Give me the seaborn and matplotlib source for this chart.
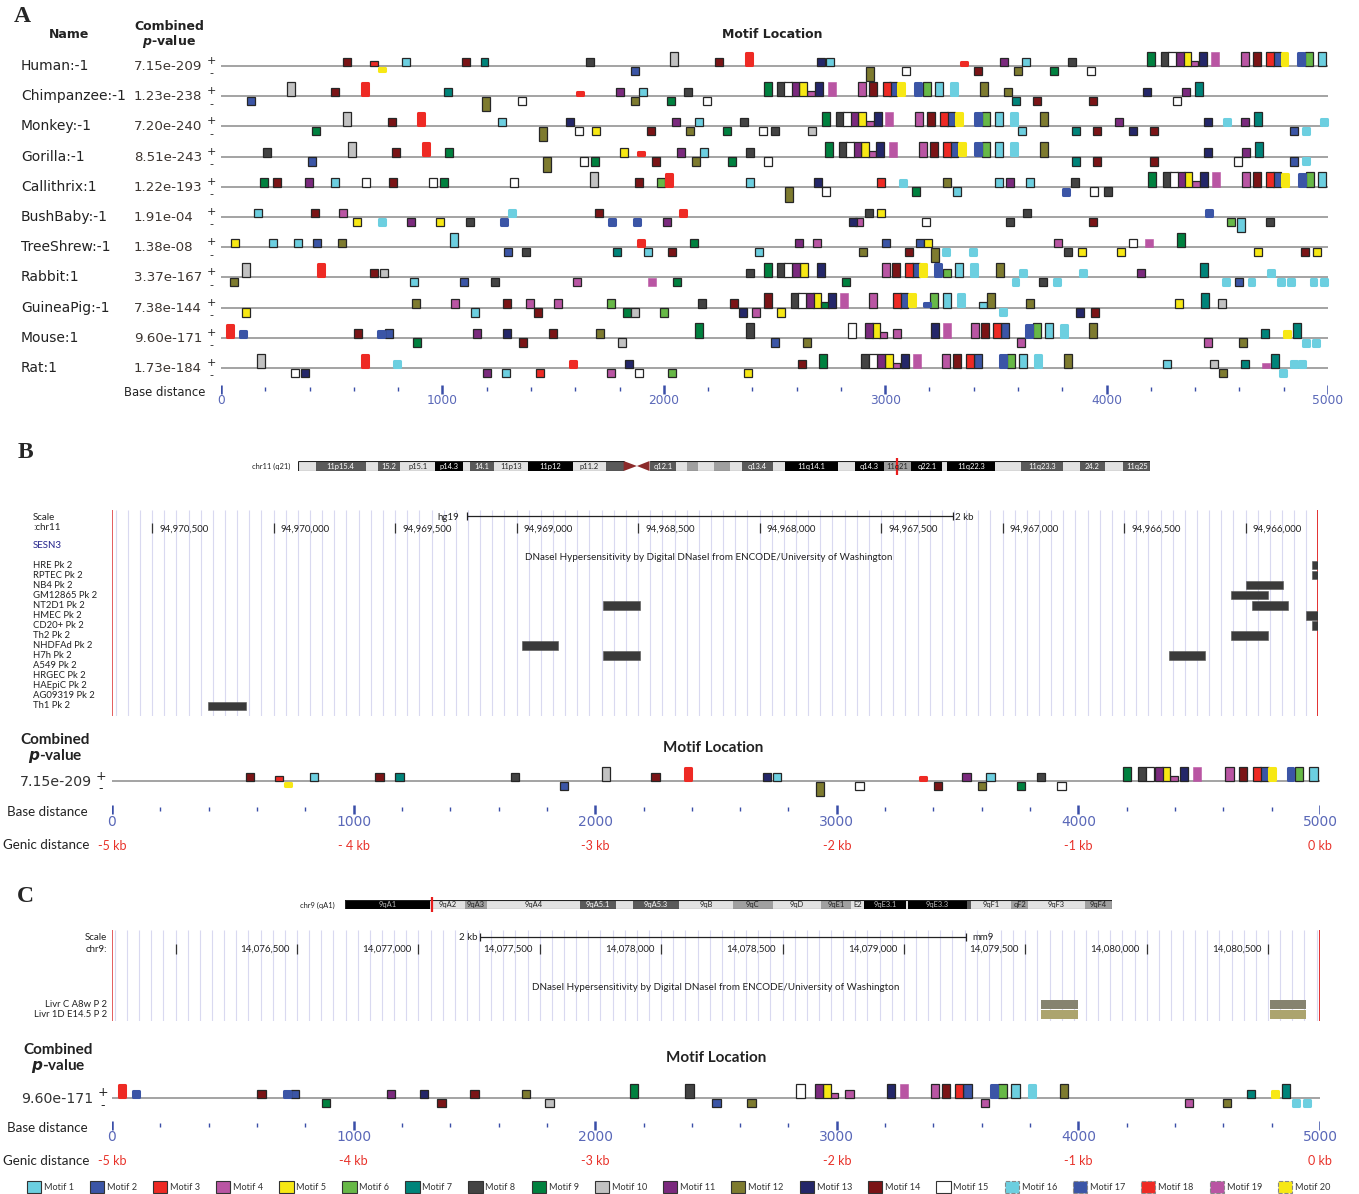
import numpy as np
import pandas as pd
import matplotlib
matplotlib.use('Agg')
import matplotlib.pyplot as plt
import seaborn as sns
from matplotlib.patches import Patch

# ---------------------------------------------------------
# data
# ---------------------------------------------------------
motif_names = [f'Motif {i}' for i in range(1, 21)]
motif_colors = ['#6ccfe0', '#3b55a6', '#ee2a24', '#b955a3', '#f7e814',
                '#67b847', '#00847a', '#434343', '#00813f', '#c2c2c2',
                '#7b2a7e', '#7e7b2f', '#242769', '#7b1416', '#ffffff',
                '#6ccfe0', '#3b55a6', '#ee2a24', '#b955a3', '#f7e814']
blob_motifs = [16, 17, 18, 20]
noedge_motifs = [19]

species = ['Human:-1', 'Chimpanzee:-1', 'Monkey:-1', 'Gorilla:-1', 'Callithrix:1',
           'BushBaby:-1', 'TreeShrew:-1', 'Rabbit:1', 'GuineaPig:-1', 'Mouse:1', 'Rat:1']
pvalues = ['7.15e-209', '1.23e-238', '7.20e-240', '8.51e-243', '1.22e-193',
           '1.91e-04', '1.38e-08', '3.37e-167', '7.38e-144', '9.60e-171', '1.73e-184']

# (position bp, motif, strand, size class 0 small / 1 normal / 2 tall)
human = [(570, 14, '+', 1), (691, 3, '+', 0), (727, 20, '-', 0), (836, 1, '+', 1), (1107, 14, '+', 1),
         (1190, 7, '+', 1), (1667, 8, '+', 1), (1870, 2, '-', 1), (2046, 10, '+', 2), (2250, 14, '+', 1),
         (2385, 18, '+', 2), (2710, 13, '+', 1), (2751, 1, '+', 1), (2932, 12, '-', 2), (3094, 15, '-', 1),
         (3356, 18, '+', 0), (3419, 14, '-', 1), (3537, 11, '+', 1), (3600, 12, '-', 1), (3636, 1, '+', 1),
         (3763, 9, '-', 1), (3844, 8, '+', 1), (3930, 15, '-', 1), (4201, 9, '+', 2), (4264, 8, '+', 2),
         (4296, 15, '+', 2), (4332, 11, '+', 2), (4363, 5, '+', 2), (4395, 4, '+', 0), (4436, 13, '+', 2),
         (4490, 19, '+', 2), (4625, 4, '+', 2), (4680, 14, '+', 2), (4738, 3, '+', 2), (4770, 2, '+', 2),
         (4802, 20, '+', 2), (4878, 17, '+', 2), (4914, 6, '+', 2), (4973, 1, '+', 2)]
chimp = [(136, 2, '-', 1), (316, 10, '+', 2), (515, 14, '+', 1), (650, 18, '+', 2), (1025, 7, '+', 1),
         (1197, 12, '-', 2), (1360, 15, '-', 1), (1622, 18, '+', 0), (1802, 11, '+', 1), (1870, 12, '-', 1),
         (1906, 1, '+', 1), (2033, 9, '-', 1), (2110, 8, '+', 1), (2195, 15, '-', 1), (2471, 9, '+', 2),
         (2530, 8, '+', 2), (2561, 15, '+', 2), (2593, 11, '+', 2), (2629, 5, '+', 2), (2665, 4, '+', 0),
         (2701, 13, '+', 2), (2760, 19, '+', 2), (2895, 4, '+', 2), (2945, 14, '+', 2), (3008, 3, '+', 2),
         (3035, 2, '+', 2), (3071, 20, '+', 2), (3148, 17, '+', 2), (3189, 6, '+', 2), (3243, 1, '+', 2),
         (3311, 16, '+', 2), (3447, 12, '+', 2), (3555, 12, '+', 1), (3591, 7, '-', 1), (3686, 14, '-', 1),
         (3939, 14, '-', 1), (4183, 13, '+', 1), (4318, 15, '-', 1), (4359, 11, '+', 1), (4418, 7, '+', 2)]
monkey = [(429, 9, '-', 1), (569, 10, '+', 2), (772, 14, '+', 1), (903, 18, '+', 2), (1269, 1, '+', 1),
          (1454, 12, '-', 2), (1576, 13, '+', 1), (1617, 15, '-', 1), (1694, 5, '-', 1), (1942, 14, '-', 1),
          (2055, 11, '+', 1), (2118, 12, '-', 1), (2159, 1, '+', 1), (2286, 9, '-', 1), (2362, 8, '+', 1),
          (2448, 15, '-', 1), (2502, 8, '-', 1), (2670, 10, '-', 1), (2733, 9, '+', 2), (2796, 8, '+', 2),
          (2828, 15, '+', 2), (2860, 11, '+', 2), (2895, 5, '+', 2), (2932, 4, '+', 0), (2968, 13, '+', 2),
          (3017, 19, '+', 2), (3153, 4, '+', 2), (3207, 14, '+', 2), (3266, 3, '+', 2), (3297, 2, '+', 2),
          (3334, 20, '+', 2), (3419, 17, '+', 2), (3456, 6, '+', 2), (3514, 1, '+', 2), (3582, 16, '+', 2),
          (3618, 1, '-', 1), (3717, 12, '+', 2), (3862, 7, '-', 1), (3957, 14, '-', 1), (4056, 11, '+', 1),
          (4120, 13, '-', 1), (4214, 14, '-', 1), (4458, 13, '+', 1), (4544, 16, '+', 1), (4625, 11, '+', 1),
          (4684, 7, '+', 2), (4847, 2, '-', 1), (4901, 16, '-', 1), (4982, 16, '+', 1)]
gorilla = [(208, 8, '+', 1), (411, 2, '-', 1), (592, 10, '+', 2), (790, 14, '+', 1), (926, 18, '+', 2),
           (1030, 9, '+', 1), (1473, 12, '-', 2), (1640, 15, '-', 1), (1689, 9, '-', 1), (1820, 5, '+', 1),
           (1897, 18, '+', 0), (1965, 14, '-', 1), (2078, 11, '+', 1), (2146, 12, '-', 1), (2182, 1, '+', 1),
           (2308, 9, '-', 1), (2390, 8, '+', 1), (2471, 15, '-', 1), (2747, 9, '+', 2), (2810, 8, '+', 2),
           (2841, 15, '+', 2), (2873, 11, '+', 2), (2909, 5, '+', 2), (2941, 4, '+', 0), (2977, 13, '+', 2),
           (3035, 19, '+', 2), (3171, 4, '+', 2), (3221, 14, '+', 2), (3279, 3, '+', 2), (3311, 2, '+', 2),
           (3347, 20, '+', 2), (3419, 17, '+', 2), (3456, 6, '+', 2), (3514, 1, '+', 2), (3582, 16, '+', 2),
           (3717, 12, '+', 2), (3862, 7, '-', 1), (3957, 14, '-', 1), (4214, 14, '-', 1), (4458, 13, '+', 1),
           (4594, 15, '-', 1), (4630, 11, '+', 1), (4689, 7, '+', 2), (4847, 2, '-', 1), (4901, 16, '-', 1)]
callithrix = [(194, 9, '+', 1), (253, 14, '+', 1), (398, 11, '+', 1), (515, 1, '+', 1), (655, 15, '+', 1),
              (777, 14, '+', 1), (958, 15, '+', 1), (1007, 9, '+', 1), (1324, 15, '+', 1), (1685, 10, '+', 2),
              (1888, 14, '+', 1), (1987, 6, '+', 1), (2024, 18, '+', 2), (2390, 1, '+', 1), (2566, 12, '-', 2),
              (2697, 13, '+', 1), (2733, 15, '-', 1), (2981, 3, '+', 1), (3081, 16, '+', 1), (3139, 9, '-', 1),
              (3279, 12, '+', 1), (3325, 1, '-', 1), (3514, 1, '+', 1), (3564, 11, '+', 1), (3654, 1, '+', 1),
              (3817, 17, '-', 1), (3858, 8, '+', 1), (3943, 15, '-', 1), (4007, 8, '-', 1), (4205, 9, '+', 2),
              (4273, 8, '+', 2), (4305, 15, '+', 2), (4336, 11, '+', 2), (4368, 5, '+', 2), (4404, 4, '+', 0),
              (4440, 13, '+', 2), (4494, 19, '+', 2), (4630, 4, '+', 2), (4680, 14, '+', 2), (4738, 3, '+', 2),
              (4770, 2, '+', 2), (4806, 20, '+', 2), (4883, 17, '+', 2), (4919, 6, '+', 2), (4973, 1, '+', 2)]
bushbaby = [(167, 1, '+', 1), (425, 14, '+', 1), (551, 4, '+', 1), (614, 5, '-', 1), (727, 16, '-', 1),
            (858, 11, '-', 1), (989, 5, '-', 1), (1125, 8, '-', 1), (1278, 17, '-', 1), (1314, 16, '+', 1),
            (1707, 14, '+', 1), (1766, 17, '-', 1), (1879, 17, '-', 1), (2015, 11, '-', 1), (2087, 18, '+', 1),
            (2855, 13, '-', 1), (2882, 4, '-', 1), (2927, 8, '+', 1), (2981, 5, '+', 1), (3184, 15, '-', 1),
            (3564, 8, '-', 1), (3641, 8, '+', 1), (3939, 14, '-', 1), (4463, 17, '+', 1), (4562, 6, '-', 1),
            (4607, 1, '-', 2), (4738, 8, '-', 1)]
treeshrew = [(63, 5, '+', 1), (235, 1, '+', 1), (348, 1, '+', 1), (434, 2, '+', 1), (547, 12, '+', 1),
             (1052, 1, '+', 2), (1296, 2, '-', 1), (1378, 8, '-', 1), (1789, 7, '-', 1), (1897, 18, '+', 1),
             (1929, 1, '-', 1), (2037, 14, '-', 1), (2137, 9, '+', 1), (2430, 1, '-', 1), (2611, 11, '+', 1),
             (2692, 4, '+', 1), (2900, 12, '-', 1), (3004, 2, '+', 1), (3108, 14, '-', 1), (3157, 2, '+', 1),
             (3193, 5, '+', 1), (3225, 12, '-', 2), (3275, 16, '-', 1), (3397, 16, '-', 1), (3781, 4, '+', 1),
             (3826, 8, '-', 1), (3889, 5, '-', 1), (4065, 5, '-', 1), (4120, 15, '+', 1), (4192, 19, '+', 1),
             (4336, 9, '+', 2), (4684, 5, '-', 1), (4897, 14, '-', 1), (4951, 5, '-', 1)]
rabbit = [(59, 12, '-', 1), (113, 10, '+', 2), (452, 18, '+', 2), (691, 14, '+', 1), (736, 10, '+', 1),
          (872, 1, '-', 1), (1098, 2, '-', 1), (1238, 8, '-', 1), (1608, 4, '-', 1), (1947, 19, '-', 1),
          (2060, 9, '-', 1), (2390, 8, '+', 1), (2471, 9, '+', 2), (2530, 8, '+', 2), (2561, 15, '+', 2),
          (2597, 11, '+', 2), (2633, 5, '+', 2), (2710, 13, '+', 2), (2823, 9, '-', 1), (3004, 4, '+', 2),
          (3049, 14, '+', 2), (3108, 3, '+', 2), (3139, 2, '+', 2), (3171, 20, '+', 2), (3239, 17, '+', 2),
          (3279, 6, '+', 1), (3334, 1, '+', 2), (3401, 16, '+', 2), (3519, 12, '+', 2), (3587, 16, '-', 1),
          (3623, 16, '+', 1), (3713, 8, '-', 1), (3776, 16, '-', 1), (3894, 16, '+', 1), (4156, 11, '+', 1),
          (4440, 7, '+', 2), (4540, 16, '-', 1), (4598, 2, '-', 1), (4653, 16, '-', 1), (4743, 16, '+', 1),
          (4788, 16, '-', 1), (4833, 16, '-', 1), (4933, 16, '-', 1), (4982, 16, '-', 1)]
guineapig = [(113, 5, '-', 1), (881, 12, '+', 1), (1057, 4, '+', 1), (1147, 1, '-', 1), (1292, 14, '+', 1),
             (1396, 4, '+', 1), (1432, 14, '-', 1), (1522, 4, '+', 1), (1762, 6, '+', 1), (1834, 9, '-', 1),
             (1870, 10, '-', 1), (2001, 6, '-', 1), (2173, 8, '+', 1), (2317, 14, '+', 1), (2358, 13, '-', 1),
             (2417, 4, '-', 1), (2471, 14, '+', 2), (2530, 5, '-', 1), (2593, 8, '+', 2), (2624, 15, '+', 2),
             (2661, 11, '+', 2), (2692, 5, '+', 2), (2728, 9, '+', 0), (2760, 13, '+', 2), (2814, 19, '+', 2),
             (2945, 4, '+', 2), (3053, 3, '+', 2), (3085, 2, '+', 2), (3121, 20, '+', 2), (3189, 17, '+', 0),
             (3221, 6, '+', 2), (3279, 1, '+', 2), (3343, 16, '+', 2), (3442, 1, '+', 0), (3478, 12, '+', 2),
             (3532, 16, '-', 1), (3654, 12, '+', 1), (3880, 13, '-', 1), (3948, 14, '-', 1), (4327, 5, '+', 1),
             (4445, 7, '+', 2), (4521, 10, '+', 1)]
mouse = [(41, 18, '+', 2), (99, 17, '+', 1), (619, 14, '+', 1), (723, 17, '+', 1), (759, 2, '+', 1),
         (885, 9, '-', 1), (1156, 11, '+', 1), (1292, 13, '+', 1), (1364, 14, '-', 1), (1500, 14, '+', 1),
         (1712, 12, '+', 1), (1811, 10, '-', 1), (2159, 9, '+', 2), (2390, 8, '+', 2), (2502, 2, '-', 1),
         (2647, 12, '-', 1), (2850, 15, '+', 2), (2927, 11, '+', 2), (2959, 5, '+', 2), (2990, 4, '+', 0),
         (3053, 4, '+', 1), (3225, 13, '+', 2), (3279, 19, '+', 2), (3406, 4, '+', 2), (3451, 14, '+', 2),
         (3505, 3, '+', 2), (3541, 2, '+', 2), (3614, 4, '-', 1), (3650, 17, '+', 2), (3686, 6, '+', 2),
         (3740, 1, '+', 2), (3808, 16, '+', 2), (3939, 12, '+', 2), (4458, 4, '-', 1), (4616, 12, '-', 1),
         (4716, 7, '+', 1), (4815, 20, '+', 1), (4860, 7, '+', 2), (4901, 16, '-', 1), (4946, 16, '-', 1)]
rat = [(181, 10, '+', 2), (334, 15, '-', 1), (379, 13, '-', 1), (650, 18, '+', 2), (795, 16, '+', 1),
       (1201, 11, '-', 1), (1287, 1, '-', 1), (1441, 3, '-', 1), (1590, 18, '+', 1), (1762, 4, '-', 1),
       (1843, 13, '+', 1), (1888, 15, '-', 1), (2037, 6, '-', 1), (2381, 5, '-', 1), (2624, 14, '+', 1),
       (2719, 9, '+', 2), (2909, 8, '+', 2), (2945, 15, '+', 2), (2981, 11, '+', 2), (3017, 5, '+', 2),
       (3049, 4, '+', 0), (3090, 13, '+', 2), (3144, 19, '+', 2), (3275, 4, '+', 2), (3325, 14, '+', 2),
       (3383, 3, '+', 2), (3419, 2, '+', 2), (3532, 17, '+', 2), (3568, 6, '+', 2), (3623, 1, '+', 2),
       (3690, 16, '+', 2), (3826, 12, '+', 2), (4273, 1, '+', 1), (4485, 10, '+', 1), (4526, 12, '-', 1),
       (4625, 7, '+', 1), (4720, 19, '+', 0), (4761, 7, '+', 2), (4797, 16, '-', 1), (4847, 16, '+', 1),
       (4883, 16, '+', 1)]
species_motifs = [human, chimp, monkey, gorilla, callithrix, bushbaby, treeshrew,
                  rabbit, guineapig, mouse, rat]

base_ticks = list(range(0, 5001, 200))
base_labels = [0, 1000, 2000, 3000, 4000, 5000]
genic_labels_b = ['-5 kb', '- 4 kb', '-3 kb', '-2 kb', '-1 kb', '0 kb']
genic_labels_c = ['-5 kb', '-4 kb', '-3 kb', '-2 kb', '-1 kb', '0 kb']

# chromosome ideograms (Mb start, Mb end, stain, label)
chr11_bands = [(0.0, 2.8, 'n', ''), (2.8, 10.7, 'd', '11p15.4'), (10.7, 12.7, 'n', ''),
               (12.7, 16.2, 'd', '15.2'), (16.2, 21.7, 'n', 'p15.1'), (21.7, 26.1, 'k', 'p14.3'),
               (26.1, 27.2, 'n', ''), (27.2, 31.0, 'd', '14.1'), (31.0, 36.4, 'n', '11p13'),
               (36.4, 43.5, 'k', '11p12'), (43.5, 48.8, 'n', 'p11.2'), (48.8, 51.6, 'd', ''),
               (51.6, 53.7, 'c', ''), (53.7, 55.7, 'c', ''), (55.7, 59.9, 'd', 'q12.1'),
               (59.9, 61.7, 'n', ''), (61.7, 63.4, 'g', ''), (63.4, 65.9, 'n', ''),
               (65.9, 68.4, 'g', ''), (68.4, 70.4, 'n', ''), (70.4, 75.2, 'd', 'q13.4'),
               (75.2, 77.1, 'n', ''), (77.1, 85.6, 'k', '11q14.1'), (85.6, 88.3, 'n', ''),
               (88.3, 92.8, 'k', 'q14.3'), (92.8, 97.2, 'g', '11q21'), (97.2, 102.1, 'k', 'q22.1'),
               (102.1, 102.9, 'n', ''), (102.9, 110.4, 'k', '11q22.3'), (110.4, 114.5, 'n', ''),
               (114.5, 121.2, 'd', '11q23.3'), (121.2, 123.9, 'n', ''), (123.9, 127.8, 'd', '24.2'),
               (127.8, 130.8, 'n', ''), (130.8, 135.0, 'd', '11q25')]
chr9_bands = [(0.0, 13.8, 'k', '9qA1'), (13.8, 19.5, 'n', '9qA2'), (19.5, 23.0, 'g', '9qA3'),
              (23.0, 38.1, 'n', '9qA4'), (38.1, 44.0, 'd', '9qA5.1'), (44.0, 46.7, 'n', ''),
              (46.7, 54.2, 'd', '9qA5.3'), (54.2, 62.9, 'n', '9qB'), (62.9, 69.4, 'g', '9qC'),
              (69.4, 77.2, 'n', '9qD'), (77.2, 82.1, 'g', '9qE1'), (82.1, 84.2, 'n', 'E2'),
              (84.2, 91.0, 'k', '9qE3.1'), (91.0, 91.3, 'n', ''), (91.3, 100.9, 'k', '9qE3.3'),
              (100.9, 101.5, 'd', ''), (101.5, 108.0, 'n', '9qF1'), (108.0, 110.8, 'g', 'qF2'),
              (110.8, 120.0, 'n', '9qF3'), (120.0, 124.4, 'g', '9qF4')]
sesn3_hg19_mb = 94.97
sesn3_mm9_mb = 14.08

# UCSC browser window B (hg19 chr11, minus strand gene -> reversed)
b_window = (94970665, 94965702)
b_ticks = [94970500, 94970000, 94969500, 94969000, 94968500, 94968000,
           94967500, 94967000, 94966500, 94966000]
b_scalebar = (94969204, 94967204)
b_cells = ['HRE Pk 2', 'RPTEC Pk 2', 'NB4 Pk 2', 'GM12865 Pk 2', 'NT2D1 Pk 2', 'HMEC Pk 2',
           'CD20+ Pk 2', 'Th2 Pk 2', 'NHDFAd Pk 2', 'H7h Pk 2', 'A549 Pk 2', 'HRGEC Pk 2',
           'HAEpiC Pk 2', 'AG09319 Pk 2', 'Th1 Pk 2']
b_peak_cell = ['HRE Pk 2', 'RPTEC Pk 2', 'NB4 Pk 2', 'GM12865 Pk 2', 'GM12865 Pk 2', 'NT2D1 Pk 2',
               'NT2D1 Pk 2', 'HMEC Pk 2', 'CD20+ Pk 2', 'Th2 Pk 2', 'NHDFAd Pk 2', 'H7h Pk 2',
               'H7h Pk 2', 'Th1 Pk 2']
b_peak_start = [94965727, 94965727, 94965998, 94966060, 94965702, 94968644, 94965974, 94965751,
                94965727, 94966060, 94968978, 94968644, 94966315, 94970270]
b_peak_end = [94965600, 94965600, 94965846, 94965908, 94965694, 94968492, 94965825, 94965600,
              94965600, 94965908, 94968830, 94968492, 94966167, 94970114]

# UCSC browser window C (mm9 chr9)
c_window = (14075738, 14080714)
c_ticks = [14076000, 14076500, 14077000, 14077500, 14078000, 14078500,
           14079000, 14079500, 14080000, 14080500]
c_tick_labels = ['', '14,076,500', '14,077,000', '14,077,500', '14,078,000', '14,078,500',
                 '14,079,000', '14,079,500', '14,080,000', '14,080,500']
c_scalebar = (14077254, 14079254)
c_cells = ['Livr C A8w P 2', 'Livr 1D E14.5 P 2']
c_peak_start = [14079564, 14080507]
c_peak_end = [14079717, 14080656]

# ---------------------------------------------------------
# style
# ---------------------------------------------------------
W, H = 1359, 1194
sns.set_theme(style='white', palette=sns.color_palette(motif_colors))
plt.rcParams['font.family'] = ['DejaVu Sans']
UC = ['Lato', 'DejaVu Sans']          # UCSC / figure text font
TICK_BLUE = '#3a4ea8'
LAB_BLUE = '#5a68b8'
GENIC_RED = '#e8322a'
LINE_GRAY = '#9c9c9c'
stain_colors = {'n': '#e2e2e2', 'g': '#a0a0a0', 'd': '#5a5a5a', 'k': '#000000', 'c': '#8c2a2a'}
heights = {0: 5.5, 1: 8.5, 2: 14.5}

fig = plt.figure(figsize=(W / 100, H / 100), dpi=100)


def add_ax(x0, y0, x1, y1):
    ax = fig.add_axes([x0 / W, 1 - y1 / H, (x1 - x0) / W, (y1 - y0) / H])
    ax.set_axis_off()
    return ax


def ftext(x, y, s, **kw):
    kw.setdefault('va', 'center')
    fig.text(x / W, 1 - y / H, s, **kw)


def draw_motifs(ax, motifs, base):
    df = pd.DataFrame(motifs, columns=['pos', 'motif', 'strand', 'size'])
    df['h'] = df['size'].map(heights)
    df['bottom'] = np.where(df['strand'] == '+', base - df['h'], base + 0.5)
    ax.hlines(base, 0, 5000, color=LINE_GRAY, lw=1.3, zorder=1)
    for m, g in df.groupby('motif'):
        col = motif_colors[m - 1]
        if m in blob_motifs:
            # soft-edged motifs: same colour, thick rounded outline
            inset = 1.2
            bars = ax.bar(g['pos'], g['h'] - 2 * inset, width=24, bottom=g['bottom'] + inset,
                          color=col, edgecolor=col, linewidth=2.2, zorder=3, clip_on=False)
            for b in bars:
                b.set_joinstyle('round')
        elif m in noedge_motifs:
            ax.bar(g['pos'], g['h'], width=34, bottom=g['bottom'], color=col,
                   edgecolor=col, linewidth=0.4, zorder=3, clip_on=False)
        else:
            ax.bar(g['pos'], g['h'], width=34, bottom=g['bottom'], color=col,
                   edgecolor='#262626', linewidth=0.9, zorder=3, clip_on=False)


def draw_base_scale(ax, y_tick, y_lab, fs):
    minor = [t for t in base_ticks if t % 1000]
    ax.vlines(minor, y_tick - 2, y_tick + 2, color=TICK_BLUE, lw=1.0)
    ax.vlines(base_labels, y_tick - 4, y_tick + 4.5, color=TICK_BLUE, lw=1.8)
    for v in base_labels:
        ax.text(v, y_lab, str(v), ha='center', va='center', color=LAB_BLUE, fontsize=fs)


def draw_genic(ax, y, labels):
    for v, s in zip(base_labels, labels):
        ax.text(v, y, s, ha='center', va='center', color=GENIC_RED, fontsize=9, family=UC)


def draw_ideogram(ax, bands, marker, chrom_len):
    ax.set_xlim(0, chrom_len)
    ax.set_ylim(1, 0)
    for s, e, st, lab in bands:
        if st == 'c':
            continue
        ax.bar(s, 1, width=e - s, bottom=0, align='edge', color=stain_colors[st],
               edgecolor='none', linewidth=0)
        if lab:
            tc = 'white' if st in 'kd' else '#222222'
            if st == 'k' and lab.startswith('9'):
                tc = '#bbbbbb'
            ax.text((s + e) / 2, 0.55, lab, ha='center', va='center', fontsize=5.4,
                    color=tc, family=UC)
    acen = [b for b in bands if b[2] == 'c']
    if acen:
        (s1, e1, _, _), (s2, e2, _, _) = acen
        ax.fill([s1, s1, e1], [0, 1, 0.5], color=stain_colors['c'], lw=0)
        ax.fill([e2, e2, s2], [0, 1, 0.5], color=stain_colors['c'], lw=0)
        ax.hlines([0, 1], 0, s1, color='#222', lw=0.8)
        ax.hlines([0, 1], e2, chrom_len, color='#222', lw=0.8)
        ax.vlines([0, chrom_len], 0, 1, color='#222', lw=0.8)
    else:
        ax.hlines([0, 1], 0, chrom_len, color='#222', lw=0.8)
        ax.vlines([0, chrom_len], 0, 1, color='#222', lw=0.8)
    ax.vlines(marker, -0.35, 1.35, color='#e81c1c', lw=1.6, clip_on=False)


def draw_browser_frame(ax, window, y0, y1):
    lo, hi = min(window), max(window)
    grid = np.arange((lo // 50 + 1) * 50, hi, 50)
    ax.vlines(grid, y0, y1, color='#d9d9f0', lw=0.8, zorder=0)
    ax.vlines(window[0], y0, y1, color='#e05050', lw=1.3)
    ax.vlines(window[1], y0, y1, color='#e02020', lw=1.3)


# ---------------------------------------------------------
# Panel A
# ---------------------------------------------------------
ftext(22, 16, 'A', fontsize=17, fontweight='bold', family='Liberation Serif', ha='center')
ftext(69, 34, 'Name', fontsize=9, fontweight='bold', ha='center', color='#222')
ftext(169, 27, 'Combined', fontsize=9, fontweight='bold', ha='center', color='#222')
ftext(169, 41, r'$\bfit{p}$-value', fontsize=9, fontweight='bold', ha='center', color='#222')
ftext(772, 34, 'Motif Location', fontsize=9, fontweight='bold', ha='center', color='#222')

axA = add_ax(221, 40, 1328, 410)
axA.set_xlim(0, 5000)
axA.set_ylim(410, 40)
row_y = [66 + 30.2 * i for i in range(len(species))]
for name, pv, motifs, y in zip(species, pvalues, species_motifs, row_y):
    ftext(21, y, name, fontsize=10, color='#222')
    ftext(134, y + 0.5, pv, fontsize=9.6, color='#3d3530')
    ftext(211, y - 5, '+', fontsize=8, ha='center', color='#222')
    ftext(211, y + 7.5, '-', fontsize=8, ha='center', color='#222')
    draw_motifs(axA, motifs, y)
draw_base_scale(axA, 389, 400, 8.8)
ftext(124, 393, 'Base distance', fontsize=8.4, color='#222')

# ---------------------------------------------------------
# Panel B
# ---------------------------------------------------------
ftext(25, 452, 'B', fontsize=17, fontweight='bold', family='Liberation Serif', ha='center')
ftext(290, 466, 'chr11 (q21)', fontsize=5.4, ha='right', family=UC, color='#222')
draw_ideogram(add_ax(298, 461, 1150, 471), chr11_bands, sesn3_hg19_mb, 135.0)

axBt = add_ax(112, 508, 1318, 716)
axBt.set_xlim(*b_window)
axBt.set_ylim(716, 508)
draw_browser_frame(axBt, b_window, 510, 716)
axBt.vlines(b_ticks, 523, 533, color='#333', lw=0.9)
for t in b_ticks:
    axBt.annotate(f'{t:,}', (t, 529), xytext=(5, 0), textcoords='offset points',
                  va='center', ha='left', fontsize=7, family=UC, color='#222')
axBt.hlines(516, *b_scalebar, color='#222', lw=0.9)
axBt.vlines(b_scalebar, 512, 520, color='#222', lw=0.9)
axBt.annotate('hg19', (b_scalebar[0], 518), xytext=(-6, 0), textcoords='offset points',
              va='center', ha='right', fontsize=7, family=UC, color='#222')
axBt.annotate('2 kb', (b_scalebar[1], 518), xytext=(1.5, 0), textcoords='offset points',
              va='center', ha='left', fontsize=7, family=UC, color='#222')
b_row = {c: 565 + 10.07 * i for i, c in enumerate(b_cells)}
peaks_b = pd.DataFrame({'cell': b_peak_cell, 'start': b_peak_start, 'end': b_peak_end})
peaks_b['y'] = peaks_b['cell'].map(b_row)
axBt.bar(peaks_b['end'], 8.5, width=peaks_b['start'] - peaks_b['end'], bottom=peaks_b['y'] - 4.25,
         align='edge', color='#3a3a3a', edgecolor='#555555', linewidth=0.4, zorder=2)
ftext(33, 517, 'Scale', fontsize=7, family=UC, color='#222')
ftext(33, 528, ':chr11', fontsize=7, family=UC, color='#222')
ftext(33, 546, 'SESN3', fontsize=7, family=UC, color='#22228a')
ftext(709, 558, 'DNaseI Hypersensitivity by Digital DNaseI from ENCODE/University of Washington',
      fontsize=7.1, family=UC, ha='center', color='#222')
for c, y in b_row.items():
    ftext(33, y, c, fontsize=6.8, family=UC, color='#222')

ftext(55, 740, 'Combined', fontsize=11, fontweight='bold', family=UC, ha='center', color='#222')
ftext(55, 756, r'$\bfit{p}$-value', fontsize=11, fontweight='bold', family=UC, ha='center', color='#222')
ftext(713, 748, 'Motif Location', fontsize=11, fontweight='bold', family=UC, ha='center', color='#222')
ftext(92, 782, pvalues[0], fontsize=10.2, ha='right', color='#333')
ftext(101, 776, '+', fontsize=9, ha='center', color='#222')
ftext(101, 789, '-', fontsize=9, ha='center', color='#222')
axBm = add_ax(112, 760, 1320, 860)
axBm.set_xlim(0, 5000)
axBm.set_ylim(860, 760)
draw_motifs(axBm, human, 781)
draw_base_scale(axBm, 809, 822, 10)
draw_genic(axBm, 846, genic_labels_b)
ftext(47, 812, 'Base distance', fontsize=9.6, family=UC, ha='center', color='#222')
ftext(46, 845, 'Genic distance', fontsize=9.6, family=UC, ha='center', color='#222')

# ---------------------------------------------------------
# Panel C
# ---------------------------------------------------------
ftext(25, 897, 'C', fontsize=17, fontweight='bold', family='Liberation Serif', ha='center')
ftext(335, 905, 'chr9 (qA1)', fontsize=5.4, ha='right', family=UC, color='#222')
draw_ideogram(add_ax(345, 900, 1112, 909), chr9_bands, sesn3_mm9_mb, 124.4)

axCt = add_ax(112, 928, 1320, 1021)
axCt.set_xlim(*c_window)
axCt.set_ylim(1021, 928)
draw_browser_frame(axCt, c_window, 930, 1021)
axCt.vlines(c_ticks, 944, 954, color='#333', lw=0.9)
for t, lab in zip(c_ticks, c_tick_labels):
    axCt.annotate(lab, (t, 949), xytext=(-5, 0), textcoords='offset points',
                  va='center', ha='right', fontsize=7, family=UC, color='#222')
axCt.hlines(937, *c_scalebar, color='#222', lw=0.9)
axCt.vlines(c_scalebar, 933, 941, color='#222', lw=0.9)
axCt.annotate('2 kb', (c_scalebar[0], 937), xytext=(-1.5, 0), textcoords='offset points',
              va='center', ha='right', fontsize=7, family=UC, color='#222')
axCt.annotate('mm9', (c_scalebar[1], 938), xytext=(5, 0), textcoords='offset points',
              va='center', ha='left', fontsize=7, family=UC, color='#222')
c_colors = ['#86836f', '#aca46e']
for i, (cell, col) in enumerate(zip(c_cells, c_colors)):
    y = 1004.5 + 10 * i
    axCt.bar(c_peak_start, 9.5, width=np.subtract(c_peak_end, c_peak_start), bottom=y - 4.75,
             align='edge', color=col, edgecolor='none', zorder=2)
    ftext(107, y, cell, fontsize=6.8, family=UC, ha='right', color='#222')
ftext(107, 938, 'Scale', fontsize=7, family=UC, ha='right', color='#222')
ftext(107, 949, 'chr9:', fontsize=7, family=UC, ha='right', color='#222')
ftext(716, 987, 'DNaseI Hypersensitivity by Digital DNaseI from ENCODE/University of Washington',
      fontsize=7.1, family=UC, ha='center', color='#222')

ftext(58, 1050, 'Combined', fontsize=11, fontweight='bold', family=UC, ha='center', color='#222')
ftext(58, 1066, r'$\bfit{p}$-value', fontsize=11, fontweight='bold', family=UC, ha='center', color='#222')
ftext(716, 1058, 'Motif Location', fontsize=11, fontweight='bold', family=UC, ha='center', color='#222')
ftext(93, 1099, pvalues[9], fontsize=10.2, ha='right', color='#333')
ftext(103, 1093, '+', fontsize=9, ha='center', color='#222')
ftext(103, 1106, '-', fontsize=9, ha='center', color='#222')
axCm = add_ax(112, 1075, 1320, 1175)
axCm.set_xlim(0, 5000)
axCm.set_ylim(1175, 1075)
draw_motifs(axCm, mouse, 1098)
draw_base_scale(axCm, 1125, 1137, 10)
draw_genic(axCm, 1161, genic_labels_c)
ftext(47, 1128, 'Base distance', fontsize=9.6, family=UC, ha='center', color='#222')
ftext(46, 1161, 'Genic distance', fontsize=9.6, family=UC, ha='center', color='#222')

# ---------------------------------------------------------
# legend
# ---------------------------------------------------------
handles = []
for i, c in enumerate(motif_colors, start=1):
    if i in blob_motifs or i in noedge_motifs:
        handles.append(Patch(facecolor=c, edgecolor='#888888', linestyle='--', linewidth=0.8))
    else:
        handles.append(Patch(facecolor=c, edgecolor='#333333', linewidth=0.8))
leg = fig.legend(handles, motif_names, loc='center left', bbox_to_anchor=(27 / W, 1 - 1187 / H),
                 ncol=20, frameon=False, handlelength=1.55, handleheight=1.5,
                 handletextpad=0.3, columnspacing=1.75, borderpad=0, borderaxespad=0,
                 prop={'family': UC, 'size': 6.6})
for t in leg.get_texts():
    t.set_color('#333333')

fig.savefig('out.png', dpi=100)
